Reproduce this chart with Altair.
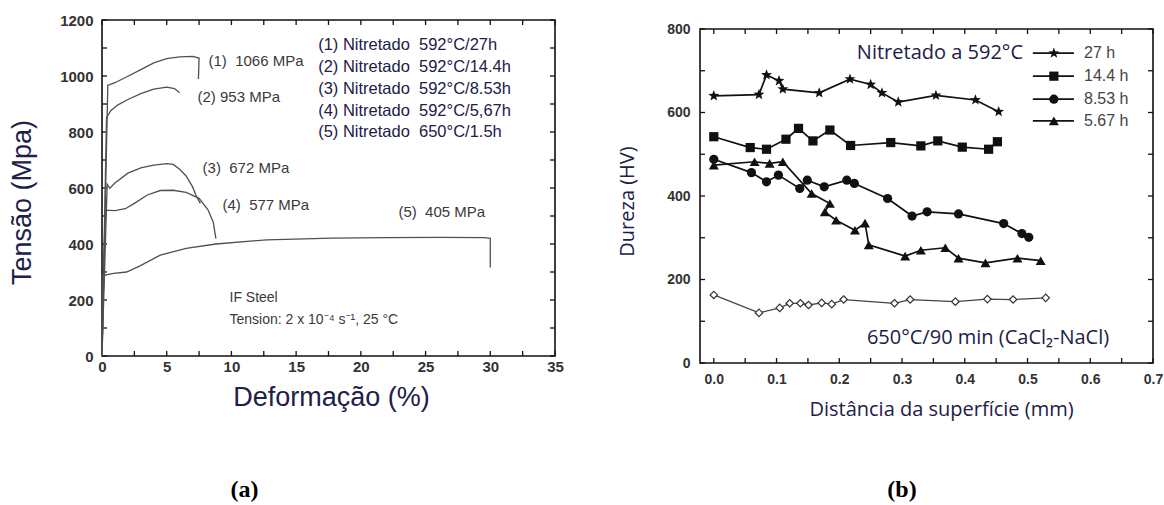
import altair as alt
import pandas as pd

# ---------------- data: panel (a) stress-strain curves ----------------
A_C1_STRAIN = [0.0, 0.45, 0.6, 1.0, 2.0, 3.0, 4.0, 5.0, 6.0, 7.0, 7.5, 7.45]
A_C1_STRESS = [0, 967, 969, 976, 999, 1023, 1047, 1062, 1068, 1070, 1064, 989]
A_C2_STRAIN = [0.0, 0.35, 0.7, 1.2, 2.0, 3.0, 4.0, 5.0, 5.6, 6.0]
A_C2_STRESS = [0, 852, 877, 896, 916, 937, 953, 960, 955, 940]
A_C3_STRAIN = [0.0, 0.4, 0.6, 1.0, 2.0, 3.0, 4.0, 5.0, 5.5, 6.0, 6.5, 7.0, 7.3, 7.6]
A_C3_STRESS = [0, 614, 599, 618, 653, 672, 682, 687, 684, 667, 643, 604, 570, 545]
A_C4_STRAIN = [0.0, 0.25, 1.0, 1.8, 2.5, 3.5, 4.5, 5.5, 6.5, 7.5, 8.2, 8.6, 8.8]
A_C4_STRESS = [0, 521, 519, 526, 545, 575, 591, 592, 584, 563, 521, 477, 419]
A_C5_STRAIN = [0.0, 0.05, 0.9, 1.9, 2.9, 4.5, 6.5, 8.8, 12.7, 17.8, 22.0, 26.0, 29.5, 30.0, 30.0]
A_C5_STRESS = [0, 287, 295, 300, 321, 360, 384, 400, 415, 421, 423, 424, 423, 420, 316]

A_PEAK_LABELS = ["(1)\u00a0 1066 MPa", "(2) 953 MPa", "(3)\u00a0 672 MPa", "(4)\u00a0 577 MPa", "(5)\u00a0 405 MPa"]
A_LEGEND = [
    "(1) Nitretado\u00a0 592\u00b0C/27h",
    "(2) Nitretado\u00a0 592\u00b0C/14.4h",
    "(3) Nitretado\u00a0 592\u00b0C/8.53h",
    "(4) Nitretado\u00a0 592\u00b0C/5,67h",
    "(5) Nitretado\u00a0 650\u00b0C/1.5h",
]
A_NOTE1 = "IF Steel"
A_NOTE2 = "Tension: 2 x 10\u207b\u2074 s\u207b\u00b9, 25 \u00b0C"
A_XTICK_LABELS = [0, 5, 10, 15, 20, 25, 30, 35]
A_YTICK_LABELS = [0, 200, 400, 600, 800, 1000, 1200]
A_XTICK_MARKS = [0, 2.5, 5, 7.5, 10, 12.5, 15, 17.5, 20, 22.5, 25, 27.5, 30, 32.5, 35]
A_YTICK_MARKS = [0, 100, 200, 300, 400, 500, 600, 700, 800, 900, 1000, 1100, 1200]

# ---------------- data: panel (b) hardness profiles ----------------
B_X_27 = [0.0, 0.072, 0.084, 0.104, 0.110, 0.168, 0.217, 0.250, 0.268, 0.294, 0.354, 0.417, 0.454]
B_Y_27 = [640, 643, 690, 676, 656, 647, 680, 667, 647, 625, 641, 630, 602]
B_X_144 = [0.0, 0.058, 0.084, 0.115, 0.135, 0.158, 0.185, 0.218, 0.282, 0.330, 0.357, 0.396, 0.438, 0.452]
B_Y_144 = [542, 516, 512, 536, 562, 532, 558, 521, 528, 520, 532, 517, 512, 530]
B_X_853 = [0.0, 0.060, 0.084, 0.103, 0.137, 0.149, 0.176, 0.212, 0.224, 0.277, 0.316, 0.340, 0.390, 0.462, 0.491, 0.502]
B_Y_853 = [488, 456, 434, 450, 418, 438, 422, 438, 430, 394, 352, 362, 357, 334, 310, 301]
B_X_567 = [0.0, 0.065, 0.089, 0.110, 0.156, 0.185, 0.177, 0.195, 0.225, 0.241, 0.247, 0.305, 0.330, 0.369, 0.390, 0.433, 0.484, 0.521]
B_Y_567 = [474, 482, 478, 482, 406, 382, 362, 342, 318, 335, 283, 256, 270, 276, 251, 240, 251, 245]
B_X_650 = [0.0, 0.072, 0.105, 0.121, 0.138, 0.151, 0.172, 0.188, 0.207, 0.288, 0.313, 0.385, 0.436, 0.477, 0.529]
B_Y_650 = [163, 120, 132, 143, 143, 139, 144, 141, 152, 143, 152, 147, 153, 152, 156]

B_LEGEND_LABELS = ["27 h", "14.4 h", "8.53 h", "5.67 h"]
B_NOTE1 = "Nitretado a 592\u00b0C"
B_NOTE2 = "650\u00b0C/90 min (CaCl\u2082-NaCl)"
B_XTICK_LABELS = [0.0, 0.1, 0.2, 0.3, 0.4, 0.5, 0.6, 0.7]
B_YTICK_LABELS = [0, 200, 400, 600, 800]
B_XTICK_MARKS = [0.0, 0.05, 0.1, 0.15, 0.2, 0.25, 0.3, 0.35, 0.4, 0.45, 0.5, 0.55, 0.6, 0.65, 0.7]
B_YTICK_MARKS = [0, 100, 200, 300, 400, 500, 600, 700, 800]

# ---------------- layout / style ----------------
PAD_L, PAD_T, PAD_R, PAD_B = 102, 20, 11, 142
W, H = 1051, 343
A_XR, A_YR = [0, 453], [336, 0]
B_XR, B_YR = [598, 1051], [343, 9]
A_XDOM, A_YDOM = [0, 35], [0, 1200]
B_XDOM, B_YDOM = [-0.022, 0.7], [0, 800]

FA = "Liberation Sans"
FB = "Open Sans"
DARK = "#202048"
GRAY = "#3a3a3a"
TICK_LEN = 5

A_PEAK_POS = [(8.23, 1054), (7.38, 925), (7.77, 671), (9.31, 539), (22.9, 514)]
A_LEG_X = 16.7
A_LEG_Y = [1111, 1032, 954, 875, 800]
A_NOTE_POS = [(9.85, 207), (9.85, 129)]
A_TAG_POS = (11.0, -479)
B_NOTE1_POS = (0.228, 742)
B_NOTE2_POS = (0.244, 61)
B_LEG_X0, B_LEG_X1, B_LEG_XM, B_LEG_XT = 0.5085, 0.574, 0.542, 0.590
B_LEG_Y = [742, 687, 632, 580]
B_TAG_POS = (0.300, -304)

STAR = ("M0,-1L0.247,-0.34L0.951,-0.309L0.399,0.13L0.588,0.809L0,0.42"
        "L-0.588,0.809L-0.399,0.13L-0.951,-0.309L-0.247,-0.34Z")

ONE = pd.DataFrame({"k": [0]})

# ---------------- scales / axes ----------------
A_XS = alt.Scale(domain=A_XDOM, range=A_XR, nice=False, zero=False)
A_YS = alt.Scale(domain=A_YDOM, range=A_YR, nice=False, zero=False)
B_XS = alt.Scale(domain=B_XDOM, range=B_XR, nice=False, zero=False)
B_YS = alt.Scale(domain=B_YDOM, range=B_YR, nice=False, zero=False)

common_ax = dict(grid=False, domain=False, ticks=False, tickSize=0,
                 labelFlush=False, labelOverlap=False, labelFontWeight="bold",
                 labelColor="#333", titleFontWeight="normal", titleColor=DARK,
                 titleAlign="center", titleBaseline="middle")

A_XAX = alt.Axis(orient="bottom", offset=-7, values=A_XTICK_LABELS, format="d", title="Deformação (%)",
                 labelFont=FA, labelFontSize=15, labelPadding=3,
                 titleFont=FA, titleFontSize=27, titleX=229, titleY=41, titleAngle=0, **common_ax)
A_YAX = alt.Axis(orient="left", offset=0, values=A_YTICK_LABELS, format="d", title="Tensão (Mpa)",
                 labelFont=FA, labelFontSize=15, labelPadding=9,
                 titleFont=FA, titleFontSize=27, titleX=-80, titleY=182, titleAngle=270, **common_ax)
B_XAX = alt.Axis(orient="bottom", offset=0, values=B_XTICK_LABELS, format=".1f",
                 title="Distância da superfície (mm)",
                 labelFont=FA, labelFontSize=14, labelPadding=9,
                 titleFont=FB, titleFontSize=20, titleX=839, titleY=46, titleAngle=0, **common_ax)
B_YAX = alt.Axis(orient="left", offset=-598, values=B_YTICK_LABELS, format="d", title="Dureza (HV)",
                 labelFont=FA, labelFontSize=14, labelPadding=10,
                 titleFont=FB, titleFontSize=20, titleX=-73, titleY=181, titleAngle=270, **common_ax)


def AX(**kw):
    return alt.X(scale=A_XS, axis=A_XAX, **kw)


def AY(**kw):
    return alt.Y(scale=A_YS, axis=A_YAX, **kw)


def BX(**kw):
    return alt.X(scale=B_XS, axis=B_XAX, **kw)


def BY(**kw):
    return alt.Y(scale=B_YS, axis=B_YAX, **kw)


def frame_and_ticks(X, Y, xdom, ydom, xmarks, ymarks):
    dfx = pd.DataFrame({"v": xmarks})
    dfy = pd.DataFrame({"v": ymarks})
    frame = alt.Chart(ONE).mark_rect(fillOpacity=0, stroke="#111", strokeWidth=1.6).encode(
        x=X(datum=xdom[0]), x2=alt.X2(datum=xdom[1]),
        y=Y(datum=ydom[0]), y2=alt.Y2(datum=ydom[1]))
    rk = dict(color="#111", strokeWidth=1.3)
    bottom = alt.Chart(dfx).mark_rule(y2Offset=-TICK_LEN, **rk).encode(
        x=X(field="v", type="quantitative"), y=Y(datum=ydom[0]), y2=alt.Y2(datum=ydom[0]))
    top = alt.Chart(dfx).mark_rule(y2Offset=TICK_LEN, **rk).encode(
        x=X(field="v", type="quantitative"), y=Y(datum=ydom[1]), y2=alt.Y2(datum=ydom[1]))
    left = alt.Chart(dfy).mark_rule(x2Offset=TICK_LEN, **rk).encode(
        y=Y(field="v", type="quantitative"), x=X(datum=xdom[0]), x2=alt.X2(datum=xdom[0]))
    right = alt.Chart(dfy).mark_rule(x2Offset=-TICK_LEN, **rk).encode(
        y=Y(field="v", type="quantitative"), x=X(datum=xdom[1]), x2=alt.X2(datum=xdom[1]))
    return [frame, bottom, top, left, right]


def text_layer(X, Y, xs, ys, texts, **style):
    df = pd.DataFrame({"x": xs, "y": ys, "t": texts})
    return alt.Chart(df).mark_text(**style).encode(
        x=X(field="x", type="quantitative"), y=Y(field="y", type="quantitative"), text="t:N")


def series_df(xs, ys, name):
    return pd.DataFrame({"x": xs, "y": ys, "s": name, "i": list(range(len(xs)))})


# ---------------- panel (a) ----------------
curves = pd.concat([
    series_df(A_C1_STRAIN, A_C1_STRESS, "1"),
    series_df(A_C2_STRAIN, A_C2_STRESS, "2"),
    series_df(A_C3_STRAIN, A_C3_STRESS, "3"),
    series_df(A_C4_STRAIN, A_C4_STRESS, "4"),
    series_df(A_C5_STRAIN, A_C5_STRESS, "5"),
])
a_lines = alt.Chart(curves).mark_line(color="#505050", strokeWidth=1.3).encode(
    x=AX(field="x", type="quantitative"), y=AY(field="y", type="quantitative"),
    detail="s:N", order="i:Q")

a_layers = frame_and_ticks(AX, AY, A_XDOM, A_YDOM, A_XTICK_MARKS, A_YTICK_MARKS) + [
    a_lines,
    text_layer(AX, AY, [p[0] for p in A_PEAK_POS], [p[1] for p in A_PEAK_POS], A_PEAK_LABELS,
               align="left", baseline="middle", font=FA, fontSize=15, color=GRAY),
    text_layer(AX, AY, [A_LEG_X] * 5, A_LEG_Y, A_LEGEND,
               align="left", baseline="middle", font=FA, fontSize=16.5, color=DARK),
    text_layer(AX, AY, [p[0] for p in A_NOTE_POS], [p[1] for p in A_NOTE_POS], [A_NOTE1, A_NOTE2],
               align="left", baseline="middle", font=FA, fontSize=14, color=GRAY),
    text_layer(AX, AY, [A_TAG_POS[0]], [A_TAG_POS[1]], ["(a)"],
               align="center", baseline="middle", font="Liberation Serif", fontSize=24,
               fontWeight="bold", color="#000"),
]
panel_a = alt.layer(*a_layers)

# ---------------- panel (b) ----------------
b_filled = pd.concat([
    series_df(B_X_27, B_Y_27, "27"),
    series_df(B_X_144, B_Y_144, "14.4"),
    series_df(B_X_853, B_Y_853, "8.53"),
    series_df(B_X_567, B_Y_567, "5.67"),
])
b_open = series_df(B_X_650, B_Y_650, "650")

b_lines = alt.Chart(b_filled).mark_line(color="#111", strokeWidth=1.7).encode(
    x=BX(field="x", type="quantitative"), y=BY(field="y", type="quantitative"),
    detail="s:N", order="i:Q")
b_open_line = alt.Chart(b_open).mark_line(color="#444", strokeWidth=1.3).encode(
    x=BX(field="x", type="quantitative"), y=BY(field="y", type="quantitative"), order="i:Q")

SHAPES = {"27": (STAR, 130), "14.4": ("square", 85), "8.53": ("circle", 85), "5.67": ("triangle-up", 100)}


def pts(df, shape, size):
    return alt.Chart(df).mark_point(shape=shape, size=size, filled=True, color="#111", opacity=1).encode(
        x=BX(field="x", type="quantitative"), y=BY(field="y", type="quantitative"))


b_points = [pts(b_filled[b_filled["s"] == k], sh, sz) for k, (sh, sz) in SHAPES.items()]
b_open_pts = alt.Chart(b_open).mark_point(shape="diamond", size=55, filled=True, fill="white",
                                          stroke="#333", strokeWidth=1.2, opacity=1).encode(
    x=BX(field="x", type="quantitative"), y=BY(field="y", type="quantitative"))

leg_df = pd.DataFrame({"y": B_LEG_Y, "t": B_LEGEND_LABELS, "k": list(SHAPES.keys())})
b_leg_lines = alt.Chart(leg_df).mark_rule(color="#111", strokeWidth=1.7).encode(
    x=BX(datum=B_LEG_X0), x2=alt.X2(datum=B_LEG_X1), y=BY(field="y", type="quantitative"))
b_leg_pts = []
for k, (sh, sz) in SHAPES.items():
    sub = leg_df[leg_df["k"] == k]
    b_leg_pts.append(alt.Chart(sub).mark_point(shape=sh, size=sz, filled=True, color="#111", opacity=1).encode(
        x=BX(datum=B_LEG_XM), y=BY(field="y", type="quantitative")))
b_leg_text = text_layer(BX, BY, [B_LEG_XT] * 4, B_LEG_Y, B_LEGEND_LABELS,
                        align="left", baseline="middle", font=FA, fontSize=16, color="#444")

b_layers = frame_and_ticks(BX, BY, B_XDOM, B_YDOM, B_XTICK_MARKS, B_YTICK_MARKS) + [
    b_open_line, b_lines, b_open_pts] + b_points + [b_leg_lines] + b_leg_pts + [
    b_leg_text,
    text_layer(BX, BY, [B_NOTE1_POS[0]], [B_NOTE1_POS[1]], [B_NOTE1],
               align="left", baseline="middle", font=FB, fontSize=20, color=DARK),
    text_layer(BX, BY, [B_NOTE2_POS[0]], [B_NOTE2_POS[1]], [B_NOTE2],
               align="left", baseline="middle", font=FB, fontSize=20, color=DARK),
    text_layer(BX, BY, [B_TAG_POS[0]], [B_TAG_POS[1]], ["(b)"],
               align="center", baseline="middle", font="Liberation Serif", fontSize=24,
               fontWeight="bold", color="#000"),
]
panel_b = alt.layer(*b_layers)

chart = alt.layer(panel_a, panel_b).resolve_scale(
    x="independent", y="independent"
).properties(
    width=W, height=H,
    autosize=alt.AutoSizeParams(type="none"),
    padding={"left": PAD_L, "top": PAD_T, "right": PAD_R, "bottom": PAD_B},
    background="white",
).configure_view(stroke="transparent")

chart.save("out.html", embed_options={"renderer": "svg", "actions": False})
